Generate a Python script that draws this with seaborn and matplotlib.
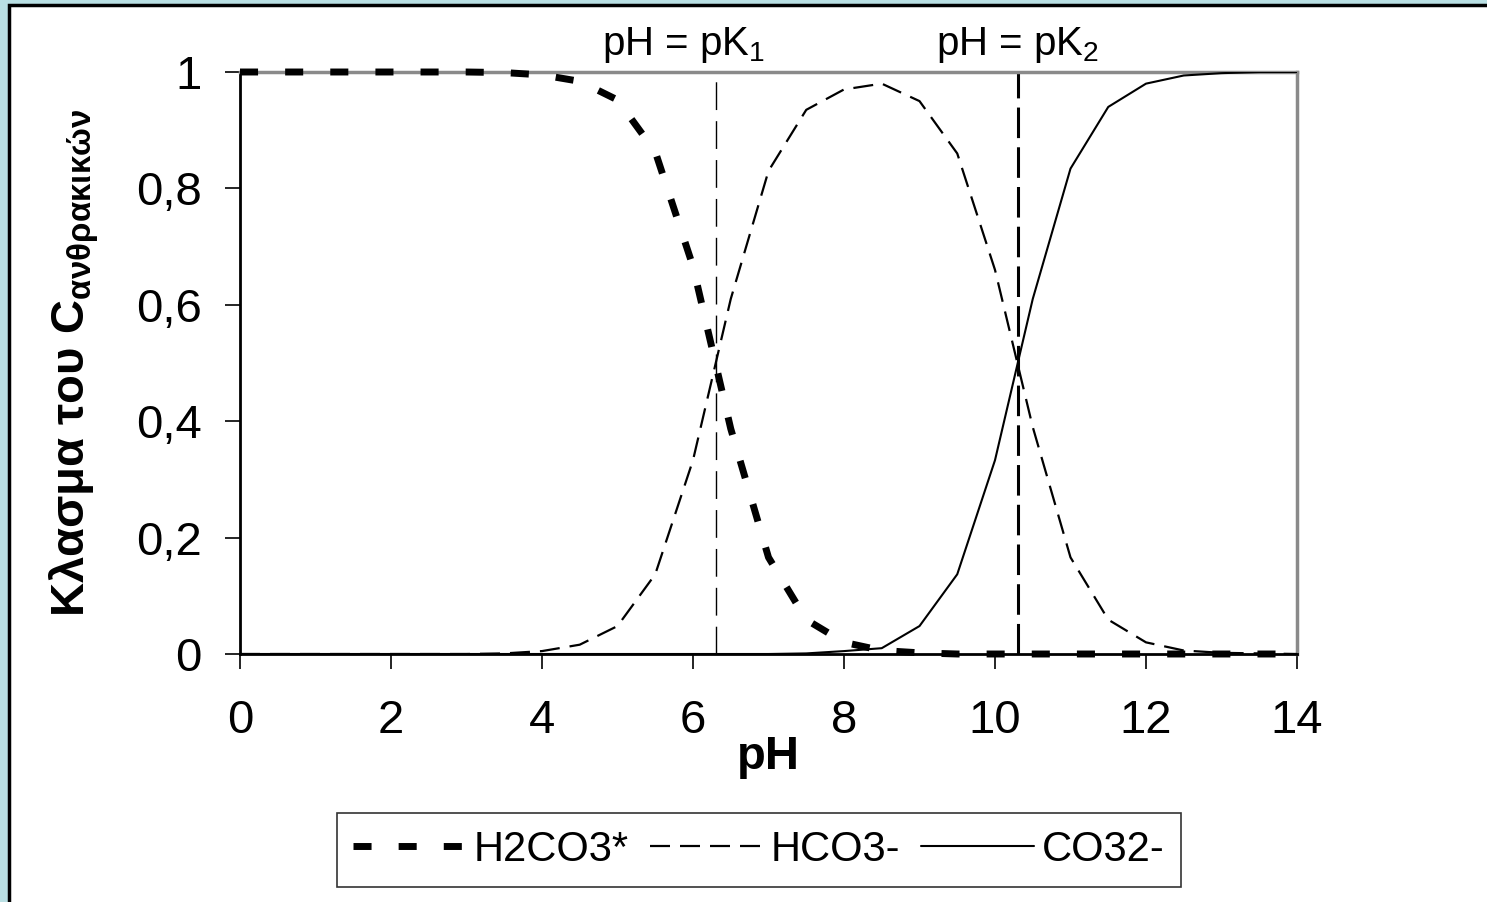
import matplotlib
matplotlib.use("Agg")
import matplotlib.pyplot as plt
from matplotlib.patches import Rectangle
import seaborn as sns

# ---- data ----
ph = [0, 0.5, 1, 1.5, 2, 2.5, 3, 3.5, 4, 4.5, 5, 5.5, 6, 6.5, 7, 7.5, 8, 8.5,
      9, 9.5, 10, 10.5, 11, 11.5, 12, 12.5, 13, 13.5, 14]
h2co3 = [1, 1, 1, 1, 1, 1, 1, 0.999, 0.995, 0.984, 0.952, 0.863, 0.666, 0.387,
         0.166, 0.059, 0.02, 0.006, 0.002, 0, 0, 0, 0, 0, 0, 0, 0, 0, 0]
hco3 = [0, 0, 0, 0, 0, 0, 0, 0.001, 0.005, 0.016, 0.048, 0.137, 0.333, 0.61,
        0.83, 0.935, 0.97, 0.98, 0.95, 0.86, 0.66, 0.39, 0.166, 0.059, 0.02,
        0.006, 0.002, 0.001, 0]
co3 = [0, 0, 0, 0, 0, 0, 0, 0, 0, 0, 0, 0, 0, 0, 0, 0.001, 0.005, 0.01,
       0.048, 0.137, 0.333, 0.61, 0.834, 0.94, 0.98, 0.994, 0.998, 1, 1]
series_names = ["H2CO3*", "HCO3-", "CO32-"]
pk_values = [6.3, 10.3]
pk_labels = [r"pH = pK$_1$", r"pH = pK$_2$"]
xticks = [0, 2, 4, 6, 8, 10, 12, 14]
yticks = [0, 0.2, 0.4, 0.6, 0.8, 1.0]
ytick_labels = ["0", "0,2", "0,4", "0,6", "0,8", "1"]

sns.set_style("white")
plt.rcParams["font.family"] = ["Liberation Sans", "DejaVu Sans"]
plt.rcParams["mathtext.fontset"] = "custom"
plt.rcParams["mathtext.rm"] = "Liberation Sans"
plt.rcParams["mathtext.bf"] = "Liberation Sans:bold"
plt.rcParams["mathtext.it"] = "Liberation Sans:italic"
for k in ["text.color", "axes.labelcolor", "xtick.color", "ytick.color"]:
    plt.rcParams[k] = "black"

fig = plt.figure(figsize=(14.87, 9.02), dpi=100)
fig.patch.set_facecolor("#b9dfe3")
fig.patches.append(Rectangle((9 / 1487, -0.1), 1.2, 1 - 5 / 902 + 0.1,
                             transform=fig.transFigure, facecolor="white",
                             edgecolor="black", linewidth=2.5, zorder=-1))

ax = fig.add_axes([240 / 1487, 248 / 902, 1057 / 1487, 582 / 902])
ax.set_facecolor("white")

sns.lineplot(x=ph, y=h2co3, ax=ax, color="black", linewidth=5,
             linestyle=(0, (2.6, 3.9)), label=series_names[0], legend=False,
             zorder=4, clip_on=False)
sns.lineplot(x=ph, y=hco3, ax=ax, color="black", linewidth=1.6,
             linestyle=(0, (9, 4.5)), label=series_names[1], legend=False,
             zorder=3)
sns.lineplot(x=ph, y=co3, ax=ax, color="black", linewidth=1.5,
             linestyle="-", label=series_names[2], legend=False, zorder=3)

ax.axvline(pk_values[0], color="black", linewidth=1.0, linestyle=(0, (20, 8)))
ax.axvline(pk_values[1], color="black", linewidth=2.2, linestyle=(0, (10, 3)))

for pk, lab in zip(pk_values, pk_labels):
    ax.text(pk, 1.046, lab, ha="center", va="center", fontsize=29,
            transform=ax.transData, clip_on=False)
ax.texts[0].set_x(pk_values[0] - 0.42)

ax.set_xlim(0, 14)
ax.set_ylim(0, 1)
ax.set_xticks(xticks)
ax.set_xticklabels([str(t) for t in xticks])
ax.set_yticks(yticks)
ax.set_yticklabels(ytick_labels)
ax.tick_params(axis="both", direction="out", length=10.5, width=1.2,
               labelsize=34, color="black", bottom=True, left=True)
ax.tick_params(axis="x", pad=22)
ax.tick_params(axis="y", pad=17)

for side in ["left", "bottom"]:
    ax.spines[side].set_color("black")
    ax.spines[side].set_linewidth(2)
for side in ["top", "right"]:
    ax.spines[side].set_color("#8a8a8a")
    ax.spines[side].set_linewidth(2.5)

ax.set_xlabel("pH", fontsize=34, fontweight="bold", labelpad=-6)
ax.set_ylabel(r"$\mathbf{Κλασμα\ του\ C}_{\mathbf{ανθρακικών}}$", fontsize=34,
              labelpad=25)

handles = ax.get_lines()[:3]
leg = fig.legend(handles, series_names, loc="center", ncol=3,
                 bbox_to_anchor=(759 / 1487, 1 - 850 / 902), fontsize=30,
                 frameon=True, fancybox=False, handlelength=2.7,
                 handletextpad=0.2, columnspacing=0.5, borderpad=0.4,
                 borderaxespad=0)
leg.get_frame().set_edgecolor("black")
leg.get_frame().set_linewidth(1.2)

fig.savefig("out.png", dpi=100, facecolor=fig.get_facecolor())
